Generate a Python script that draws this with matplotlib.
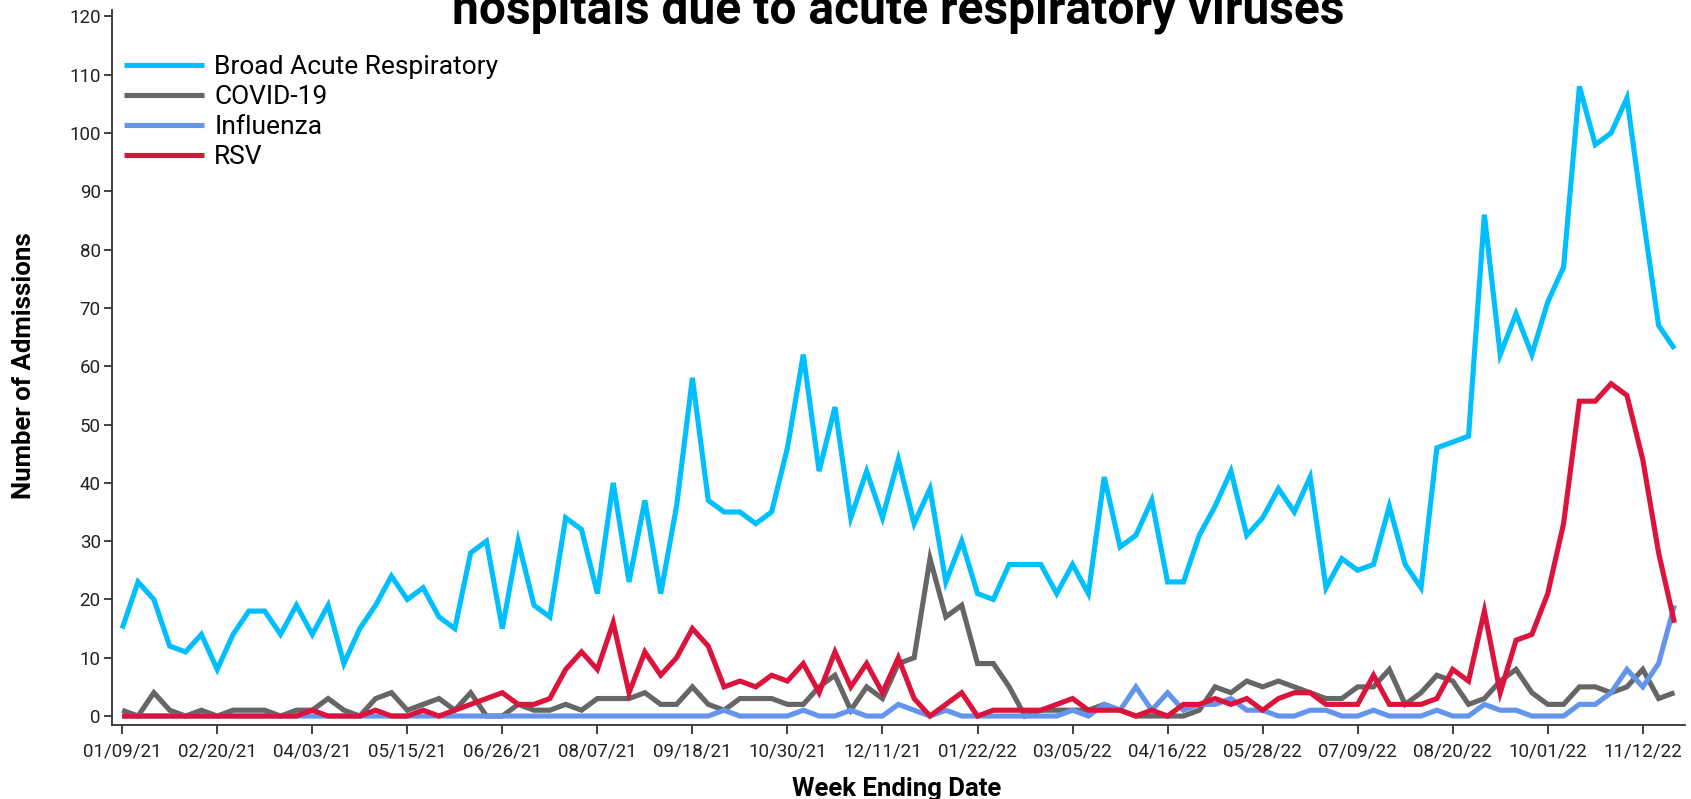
import matplotlib
matplotlib.use('Agg')
import matplotlib.pyplot as plt
import matplotlib.dates as mdates
import pandas as pd

# dados (semanas a partir de 09/01/2021)
week_start = '2021-01-09'
n_weeks = 99

broad = [15, 23, 20, 12, 11, 14, 8, 14, 18, 18,
         14, 19, 14, 19, 9, 15, 19, 24, 20, 22,
         17, 15, 28, 30, 15, 30, 19, 17, 34, 32,
         21, 40, 23, 37, 21, 36, 58, 37, 35, 35,
         33, 35, 46, 62, 42, 53, 34, 42, 34, 44,
         33, 39, 23, 30, 21, 20, 26, 26, 26, 21,
         26, 21, 41, 29, 31, 37, 23, 23, 31, 36,
         42, 31, 34, 39, 35, 41, 22, 27, 25, 26,
         36, 26, 22, 46, 47, 48, 86, 62, 69, 62,
         71, 77, 108, 98, 100, 106, 86, 67, 63]

covid = [1, 0, 4, 1, 0, 1, 0, 1, 1, 1,
         0, 1, 1, 3, 1, 0, 3, 4, 1, 2,
         3, 1, 4, 0, 0, 2, 1, 1, 2, 1,
         3, 3, 3, 4, 2, 2, 5, 2, 1, 3,
         3, 3, 2, 2, 5, 7, 1, 5, 3, 9,
         10, 27, 17, 19, 9, 9, 5, 0, 1, 1,
         1, 1, 2, 1, 0, 0, 0, 0, 1, 5,
         4, 6, 5, 6, 5, 4, 3, 3, 5, 5,
         8, 2, 4, 7, 6, 2, 3, 6, 8, 4,
         2, 2, 5, 5, 4, 5, 8, 3, 4]

flu = [0, 0, 0, 0, 0, 0, 0, 0, 0, 0,
       0, 0, 0, 0, 0, 0, 0, 0, 0, 0,
       0, 0, 0, 0, 0, 0, 0, 0, 0, 0,
       0, 0, 0, 0, 0, 0, 0, 0, 1, 0,
       0, 0, 0, 1, 0, 0, 1, 0, 0, 2,
       1, 0, 1, 0, 0, 0, 0, 0, 0, 0,
       1, 0, 2, 1, 5, 1, 4, 1, 2, 2,
       3, 1, 1, 0, 0, 1, 1, 0, 0, 1,
       0, 0, 0, 1, 0, 0, 2, 1, 1, 0,
       0, 0, 2, 2, 4, 8, 5, 9, 19]

rsv = [0, 0, 0, 0, 0, 0, 0, 0, 0, 0,
       0, 0, 1, 0, 0, 0, 1, 0, 0, 1,
       0, 1, 2, 3, 4, 2, 2, 3, 8, 11,
       8, 16, 4, 11, 7, 10, 15, 12, 5, 6,
       5, 7, 6, 9, 4, 11, 5, 9, 4, 10,
       3, 0, 2, 4, 0, 1, 1, 1, 1, 2,
       3, 1, 1, 1, 0, 1, 0, 2, 2, 3,
       2, 3, 1, 3, 4, 4, 2, 2, 2, 7,
       2, 2, 2, 3, 8, 6, 18, 4, 13, 14,
       21, 33, 54, 54, 57, 55, 44, 28, 16]

labels = ['Broad Acute Respiratory', 'COVID-19', 'Influenza', 'RSV']
colors = ['#00BFFF', '#666666', '#6495ED', '#DC143C']
y_ticks = list(range(0, 121, 10))

dates = pd.date_range(week_start, periods=n_weeks, freq='7D')

plt.rcParams['font.family'] = ['Roboto', 'DejaVu Sans']

fig = plt.figure(figsize=(16.91, 7.99), dpi=100, facecolor='white')
ax = fig.add_axes([0.0661, 0.0926, 0.9304, 0.8949])

for serie, lab, col in zip([broad, covid, flu, rsv], labels, colors):
    ax.plot(dates, serie, color=col, lw=3.7, label=lab,
            solid_joinstyle='miter', solid_capstyle='butt')

# eixos
ax.set_xlim(dates[0] - pd.Timedelta(days=4.6), dates[-1] + pd.Timedelta(days=4.7))
ax.set_ylim(-1.54, 121.1)
ax.set_xticks(dates[::6])
ax.xaxis.set_major_formatter(mdates.DateFormatter('%m/%d/%y'))
ax.set_yticks(y_ticks)

for s in ['top', 'right']:
    ax.spines[s].set_visible(False)
for s in ['left', 'bottom']:
    ax.spines[s].set_color('#333333')
    ax.spines[s].set_linewidth(1.3)

ax.tick_params(axis='x', length=6.5, width=1.3, color='#333333',
               labelsize=13.5, labelcolor='#222222', pad=6)
ax.tick_params(axis='y', length=6, width=1.3, color='#333333',
               labelsize=13.5, labelcolor='#222222', pad=2)

# legenda
ax.legend(loc='upper left', bbox_to_anchor=(0.0736, 0.931),
          bbox_transform=fig.transFigure, frameon=False, fontsize=19,
          handlelength=3.0, handletextpad=0.4, labelspacing=0.23,
          borderpad=0, borderaxespad=0)

# textos
fig.text(0.531, 0.970, 'hospitals due to acute respiratory viruses',
         ha='center', va='baseline', fontsize=34.5, fontweight='bold', color='black')
fig.text(0.53, 0.004, 'Week Ending Date', ha='center', va='baseline',
         fontsize=18.5, fontweight='bold', color='black')
fig.text(0.0142, 0.543, 'Number of Admissions', ha='center', va='center',
         rotation=90, fontsize=18.5, fontweight='bold', color='black')

fig.savefig('out.png', dpi=100, facecolor='white')
